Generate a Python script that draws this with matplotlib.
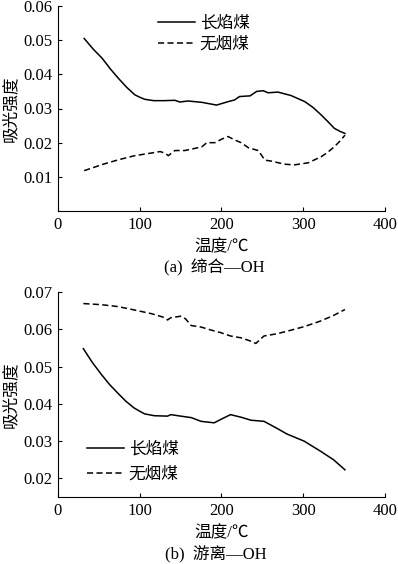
import matplotlib
matplotlib.use("Agg")
import matplotlib.pyplot as plt

plt.rcParams['font.family'] = ['Liberation Serif', 'Noto Sans CJK SC', 'DejaVu Sans']
plt.rcParams['axes.unicode_minus'] = False

# (a) 缔合—OH
xa_long = [32, 43, 54, 64, 74, 84, 94, 100, 106, 117, 130, 143, 149, 159, 176, 194, 208, 216,
           222, 235, 243, 251, 257, 269, 285, 302, 312, 322, 330, 338, 345, 351]
ya_long = [0.0505, 0.0474, 0.0447, 0.0416, 0.0388, 0.0362, 0.0340, 0.0333, 0.0327, 0.0323,
           0.0323, 0.0324, 0.0319, 0.0322, 0.0318, 0.0310, 0.0320, 0.0325, 0.0335, 0.0337,
           0.0350, 0.0352, 0.0346, 0.0348, 0.0338, 0.0320, 0.0303, 0.0281, 0.0262, 0.0242,
           0.0233, 0.0227]
xa_anth = [32, 54, 74, 94, 115, 125, 131, 135, 143, 155, 167, 176, 182, 192, 200, 208,
           216, 224, 233, 245, 253, 261, 277, 289, 306, 322, 330, 338, 345, 351]
ya_anth = [0.0118, 0.0136, 0.0150, 0.0162, 0.0170, 0.0174, 0.0169, 0.0162, 0.0177, 0.0177,
           0.0183, 0.0188, 0.0200, 0.0200, 0.0210, 0.0218, 0.0208, 0.0200, 0.0185, 0.0177,
           0.0149, 0.0146, 0.0137, 0.0135, 0.0141, 0.0159, 0.0172, 0.0188, 0.0205, 0.0222]

# (b) 游离—OH
xb_long = [31, 42, 53, 63, 73, 83, 93, 100, 106, 118, 134, 138, 150, 163, 175, 191, 199,
           211, 224, 236, 252, 268, 280, 301, 321, 337, 351]
yb_long = [0.0548, 0.0511, 0.0479, 0.0452, 0.0429, 0.0407, 0.0389, 0.0380, 0.0373, 0.0368,
           0.0367, 0.0371, 0.0367, 0.0363, 0.0353, 0.0349, 0.0358, 0.0371, 0.0364, 0.0356,
           0.0353, 0.0334, 0.0319, 0.0300, 0.0273, 0.0250, 0.0223]
xb_anth = [31, 53, 73, 93, 114, 128, 134, 138, 150, 156, 163, 175, 187, 199, 211, 224,
           236, 242, 252, 268, 284, 301, 321, 337, 351]
yb_anth = [0.0669, 0.0666, 0.0661, 0.0652, 0.0642, 0.0633, 0.0625, 0.0631, 0.0635, 0.0628,
           0.0610, 0.0606, 0.0598, 0.0591, 0.0582, 0.0577, 0.0568, 0.0562, 0.0582, 0.0588,
           0.0597, 0.0607, 0.0622, 0.0637, 0.0653]

labels = ["长焰煤", "无烟煤"]
fs = 12
W, H = 398, 564

fig = plt.figure(figsize=(W / 100, H / 100), dpi=100)
ax1 = fig.add_axes([58 / W, 1 - 211 / H, 327 / W, 205 / H])
ax2 = fig.add_axes([58 / W, 1 - 497 / H, 327 / W, 205 / H])


def style(ax):
    for s in ["top", "right"]:
        ax.spines[s].set_visible(False)
    ax.tick_params(direction="in", length=3, labelsize=fs, pad=4)
    ax.set_xlim(0, 400)
    ax.set_xticks([0, 100, 200, 300, 400])
    ax.set_xlabel("温度/℃", fontsize=fs, labelpad=5)
    ax.set_ylabel("吸光强度", fontsize=fs, labelpad=3)


def legend(ax, x, y, spacing):
    ax.legend(loc="upper left", bbox_to_anchor=(x / W, 1 - y / H), bbox_transform=fig.transFigure,
              frameon=False, fontsize=fs, handlelength=2.2, handletextpad=0.3,
              borderpad=0, borderaxespad=0, labelspacing=spacing)


ax1.plot(xa_long, ya_long, "k-", lw=1.1, label=labels[0])
ax1.plot(xa_anth, ya_anth, color="k", ls=(0, (4, 2.2)), lw=1.1, label=labels[1])
style(ax1)
ax1.set_ylim(0, 0.06)
ax1.set_yticks([0.01, 0.02, 0.03, 0.04, 0.05, 0.06])
ax1.set_yticklabels(["0.01", "0.02", "0.03", "0.04", "0.05", "0.06"])
legend(ax1, 158, 16, 0.3)
fig.text(214 / W, 1 - 268 / H, "(a)  缔合—OH", ha="center", va="center", fontsize=fs)

ax2.plot(xb_long, yb_long, "k-", lw=1.1, label=labels[0])
ax2.plot(xb_anth, yb_anth, color="k", ls=(0, (4, 2.2)), lw=1.1, label=labels[1])
style(ax2)
ax2.set_ylim(0.015, 0.07)
ax2.set_yticks([0.02, 0.03, 0.04, 0.05, 0.06, 0.07])
ax2.set_yticklabels(["0.02", "0.03", "0.04", "0.05", "0.06", "0.07"])
legend(ax2, 87, 442, 0.5)
fig.text(216 / W, 1 - 555 / H, "(b)  游离—OH", ha="center", va="center", fontsize=fs)

fig.savefig("out.png", dpi=100)
